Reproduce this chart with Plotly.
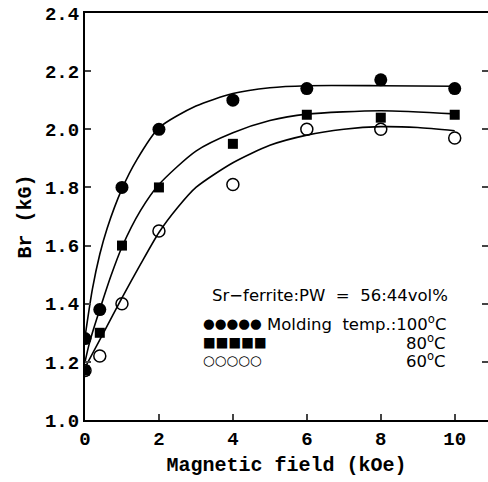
import plotly.graph_objects as go

# measured points
field_pts = [0, 0.4, 1, 2, 4, 6, 8, 10]
br_100 = [1.28, 1.38, 1.80, 2.00, 2.10, 2.14, 2.17, 2.14]
br_80 = [1.17, 1.30, 1.60, 1.80, 1.95, 2.05, 2.04, 2.05]
br_60 = [1.17, 1.22, 1.40, 1.65, 1.81, 2.00, 2.00, 1.97]

# fitted curves
fit_x_100 = [0, 0.2, 0.4, 0.6, 1, 1.4, 2, 3, 4, 5, 6, 8, 10]
fit_y_100 = [1.285, 1.45, 1.57, 1.66, 1.795, 1.895, 2.005, 2.08, 2.123, 2.143, 2.15, 2.15, 2.148]
fit_x_80 = [0, 0.1, 0.2, 0.4, 0.7, 1, 1.5, 2, 3, 4, 5, 6, 8, 10]
fit_y_80 = [1.20, 1.255, 1.30, 1.38, 1.495, 1.595, 1.72, 1.81, 1.925, 1.988, 2.03, 2.052, 2.064, 2.053]
fit_x_60 = [0, 0.5, 1, 1.5, 2, 2.5, 3, 4, 5, 6, 7, 8, 9, 10]
fit_y_60 = [1.18, 1.30, 1.42, 1.535, 1.645, 1.73, 1.80, 1.885, 1.945, 1.98, 2.0, 2.009, 2.006, 1.995]

x_ticks = [0, 2, 4, 6, 8, 10]
y_ticks = [1.0, 1.2, 1.4, 1.6, 1.8, 2.0, 2.2, 2.4]

AX_FONT = "Liberation Mono"
fig = go.Figure()

for fx, fy in [(fit_x_100, fit_y_100), (fit_x_80, fit_y_80), (fit_x_60, fit_y_60)]:
    fig.add_trace(go.Scatter(x=fx, y=fy, mode="lines",
                             line=dict(color="black", width=1.6, shape="spline", smoothing=0.7),
                             showlegend=False, hoverinfo="skip"))

fig.add_trace(go.Scatter(x=field_pts, y=br_60, mode="markers",
                         marker=dict(symbol="circle-open", size=12, color="black", line=dict(width=1.5, color="black")),
                         showlegend=False))
fig.add_trace(go.Scatter(x=field_pts, y=br_80, mode="markers",
                         marker=dict(symbol="square", size=10, color="black"), showlegend=False))
fig.add_trace(go.Scatter(x=field_pts, y=br_100, mode="markers",
                         marker=dict(symbol="circle", size=13, color="black"), showlegend=False))
# empty trace so the right-hand tick axis is drawn
fig.add_trace(go.Scatter(x=[], y=[], yaxis="y2", showlegend=False))

fig.update_layout(
    width=488, height=482,
    margin=dict(l=85, r=0, t=13, b=62),
    paper_bgcolor="white", plot_bgcolor="white",
    xaxis=dict(range=[0, 10.9], tickvals=x_ticks, ticks="inside", ticklen=6, tickwidth=1.5,
               showline=True, linewidth=2, linecolor="black", mirror=True, showgrid=False, zeroline=False,
               tickfont=dict(family=AX_FONT, size=19, color="black", weight="bold"),
               title=dict(text="Magnetic field (kOe)",
                          font=dict(family=AX_FONT, size=20, color="black", weight="bold"), standoff=7)),
    yaxis=dict(range=[1.0, 2.4], tickvals=y_ticks, tickformat=".1f", ticks="inside", ticklen=6, tickwidth=1.5,
               showline=True, linewidth=2, linecolor="black", showgrid=False, zeroline=False,
               tickfont=dict(family=AX_FONT, size=19, color="black", weight="bold"),
               title=dict(text="Br (kG)", font=dict(family=AX_FONT, size=20, color="black", weight="bold"),
                          standoff=8)),
    yaxis2=dict(range=[1.0, 2.4], tickvals=y_ticks, overlaying="y", side="right", ticks="inside", ticklen=6,
                tickwidth=1.5, showticklabels=False, showline=False, showgrid=False, zeroline=False),
    showlegend=False,
)

NB = "\u00a0"
LEG_FONT = dict(family="DejaVu Sans", size=16.5, color="black")
SYM_FONT = dict(family="DejaVu Sans", size=13.5, color="black")
ann = [
    dict(x=0.313, y=0.307, text="Sr\u2212ferrite:PW" + NB * 2 + "=" + NB * 2 + "56:44vol%", xanchor="left", font=LEG_FONT),
    dict(x=0.29, y=0.2383, text="\u25cf\u25cf\u25cf\u25cf\u25cf", xanchor="left", font=SYM_FONT),
    dict(x=0.29, y=0.1916, text="\u25a0\u25a0\u25a0\u25a0\u25a0", xanchor="left", font=SYM_FONT),
    dict(x=0.29, y=0.1474, text="\u25cb\u25cb\u25cb\u25cb\u25cb", xanchor="left", font=SYM_FONT),
    dict(x=0.899, y=0.2383, text="Molding" + NB * 2 + "temp.:100<sup>o</sup>C", xanchor="right", font=LEG_FONT),
    dict(x=0.899, y=0.1916, text="80<sup>o</sup>C", xanchor="right", font=LEG_FONT),
    dict(x=0.899, y=0.1474, text="60<sup>o</sup>C", xanchor="right", font=LEG_FONT),
]
for a in ann:
    fig.add_annotation(xref="paper", yref="paper", yanchor="middle", showarrow=False, borderpad=0, **a)

fig.write_html("out.html")
